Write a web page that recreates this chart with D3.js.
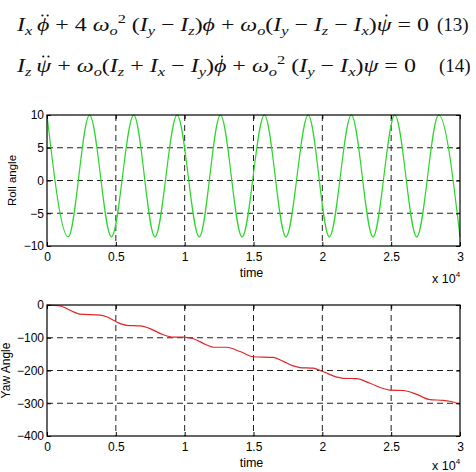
<!DOCTYPE html>
<html>
<head>
<meta charset="utf-8">
<script src="https://cdn.jsdelivr.net/npm/d3@7"></script>
<style>
  body { margin: 0; background: #fff; }
  svg { display: block; }
  .tick text { font-family: "Liberation Sans", Arial, sans-serif; font-size: 12px; fill: #000; }
</style>
</head>
<body>
<script>
// Chart data
const xTicks = [0, 5000, 10000, 15000, 20000, 25000, 30000];
const xTickLabels = ['0', '0.5', '1', '1.5', '2', '2.5', '3'];
const rollTicks = [-10, -5, 0, 5, 10];
const yawTicks = [-400, -300, -200, -100, 0];

// roll angle: peaks and troughs of the oscillation
const rollTime = [0, 1540, 3090, 4680, 6300, 7840, 9450, 11060, 12600, 14170,
  15790, 17355, 18975, 20510, 22110, 23680, 25270, 26855, 28450, 30000];
const rollValue = [10, -8.6, 10, -8.6, 10, -8.6, 10, -8.6, 10, -8.6,
  10, -8.6, 10, -8.6, 10, -8.6, 10, -8.6, 10, -8.6];

// yaw angle: stair-like descent
const yawTime = [0, 944, 1913, 2397, 3850, 4334, 5060, 5789, 6755, 7482, 8450, 9175,
  9900, 10627, 11600, 12080, 13053, 14020, 15000, 16440, 17165, 17890, 18378,
  19346, 20073, 21042, 21525, 22494, 23462, 24430, 24915, 25884, 26852, 27821,
  28789, 29274, 30000];
const yawValue = [0, -3, -21, -28, -31, -36, -52, -62, -64, -72, -91, -98,
  -98, -103, -122, -129, -129, -142, -158, -160, -172, -186, -191,
  -193, -204, -220, -224, -225, -239, -255, -260, -261, -273, -289,
  -291, -294, -303];

const width = 476;
const height = 472;
const left = 47;
const plotW = 413;
const plotH = 131;

const svg = d3.select('body')
  .append('svg')
  .attr('width', width)
  .attr('height', height);

// ---- equations ----
// [text, kind, dots over the glyph]
const mathFont = '"Liberation Serif", "DejaVu Serif", serif';
const eq1 = [
  ['I', 'i'], ['x', 'sub'], ['\u2009', 'n'], ['\u03D5', 'g', 2], ['  +  4 ', 'n'], ['ω', 'i'], ['o', 'sub'], ['2', 'sup'],
  [' (', 'n'], ['I', 'i'], ['y', 'sub'], [' − ', 'n'], ['I', 'i'], ['z', 'sub'], [')', 'n'], ['\u03D5', 'g'],
  [' +  ', 'n'], ['ω', 'i'], ['o', 'sub'], ['(', 'n'], ['I', 'i'], ['y', 'sub'], [' − ', 'n'], ['I', 'i'], ['z', 'sub'],
  [' − ', 'n'], ['I', 'i'], ['x', 'sub'], [')', 'n'], ['\u03C8', 'g', 1], [' = 0', 'n']
];
const eq2 = [
  ['I', 'i'], ['z', 'sub'], ['\u2009', 'n'], ['\u03C8', 'g', 2], ['  +  ', 'n'], ['ω', 'i'], ['o', 'sub'],
  ['(', 'n'], ['I', 'i'], ['z', 'sub'], [' + ', 'n'], ['I', 'i'], ['x', 'sub'], [' − ', 'n'], ['I', 'i'], ['y', 'sub'], [')', 'n'],
  ['\u03D5', 'g', 1], [' +  ', 'n'], ['ω', 'i'], ['o', 'sub'], ['2', 'sup'], [' (', 'n'], ['I', 'i'], ['y', 'sub'],
  [' − ', 'n'], ['I', 'i'], ['x', 'sub'], [')', 'n'], ['\u03C8', 'g'], [' = 0', 'n']
];

function drawEquation(parts, x0, baseline, x1, num, numX) {
  const g = svg.append('g');
  const t = g.append('text')
    .attr('x', 0).attr('y', 0)
    .style('font-family', mathFont)
    .style('font-size', '19px')
    .attr('fill', '#111');
  let shift = 0;
  const dotted = [];
  parts.forEach(([s, kind, dots]) => {
    const sp = t.append('tspan').text(s);
    let target = 0;
    if (kind === 'sub') { target = 4; sp.style('font-size', '13px').style('font-style', 'italic'); }
    else if (kind === 'sup') { target = -8; sp.style('font-size', '13px'); }
    else if (kind === 'i' || kind === 'g') sp.style('font-style', 'italic');
    sp.attr('dy', target - shift);
    shift = target;
    if (dots) dotted.push([sp, dots]);
  });
  const w = t.node().getComputedTextLength();
  const sx = (x1 - x0) / w;
  g.attr('transform', `translate(${x0},${baseline}) scale(${sx},1)`);
  // dots of the time derivatives
  dotted.forEach(([sp, dots]) => {
    const b = sp.node().getBBox();
    const cx = b.x + b.width / 2 + 1.5;
    const cy = -15.5;
    const offs = dots === 2 ? [-2.6, 2.6] : [0];
    offs.forEach(o => {
      g.append('ellipse')
        .attr('cx', cx + o / sx).attr('cy', cy)
        .attr('rx', 1.1 / sx).attr('ry', 1.1)
        .attr('fill', '#111');
    });
  });
  svg.append('text')
    .attr('x', numX).attr('y', baseline)
    .style('font-family', mathFont)
    .style('font-size', '19px')
    .attr('fill', '#111')
    .text(num);
}
drawEquation(eq1, 17, 31, 429, '(13)', 437);
drawEquation(eq2, 17, 72, 416, '(14)', 439);

// ---- plot helper ----
function drawPlot(top, yDomain, yTicks, time, values, color, yLabel, labelX, labelSize, expOffset) {
  const x = d3.scaleLinear().domain([0, 30000]).range([left, left + plotW]);
  const y = d3.scaleLinear().domain(yDomain).range([top + plotH, top]);

  const g = svg.append('g');

  // dashed grid
  g.selectAll('.vgrid')
    .data(xTicks.slice(1, -1))
    .enter().append('line')
    .attr('x1', d => x(d)).attr('x2', d => x(d))
    .attr('y1', top).attr('y2', top + plotH)
    .attr('stroke', '#222').attr('stroke-width', 1)
    .attr('stroke-dasharray', '6,4');
  g.selectAll('.hgrid')
    .data(yTicks.slice(1, -1))
    .enter().append('line')
    .attr('x1', left).attr('x2', left + plotW)
    .attr('y1', d => y(d)).attr('y2', d => y(d))
    .attr('stroke', '#222').attr('stroke-width', 1)
    .attr('stroke-dasharray', '6,4');

  // data line
  const pts = time.map((t, i) => [t, values[i]]);
  const line = d3.line()
    .x(d => x(d[0]))
    .y(d => y(d[1]))
    .curve(d3.curveMonotoneX);
  g.append('path')
    .datum(pts)
    .attr('d', line)
    .attr('fill', 'none')
    .attr('stroke', color)
    .attr('stroke-width', 1.2);

  // axes with inner ticks
  const xAxis = d3.axisBottom(x)
    .tickValues(xTicks)
    .tickFormat((d, i) => xTickLabels[i])
    .tickSize(-4).tickPadding(6);
  g.append('g')
    .attr('transform', `translate(0,${top + plotH})`)
    .call(xAxis)
    .call(a => a.select('.domain').remove());
  g.append('g')
    .attr('transform', `translate(0,${top})`)
    .call(d3.axisTop(x).tickValues(xTicks).tickFormat('').tickSize(-4))
    .call(a => a.select('.domain').remove());
  g.append('g')
    .attr('transform', `translate(${left},0)`)
    .call(d3.axisLeft(y).tickValues(yTicks).tickSize(-4).tickPadding(3))
    .call(a => a.select('.domain').remove());
  g.append('g')
    .attr('transform', `translate(${left + plotW},0)`)
    .call(d3.axisRight(y).tickValues(yTicks).tickFormat('').tickSize(-4))
    .call(a => a.select('.domain').remove());

  // frame
  g.append('rect')
    .attr('x', left).attr('y', top)
    .attr('width', plotW).attr('height', plotH)
    .attr('fill', 'none')
    .attr('stroke', '#000')
    .attr('stroke-width', 1.2);

  // labels
  g.append('text')
    .attr('x', left + plotW / 2 - 2)
    .attr('y', top + plotH + 31)
    .attr('text-anchor', 'middle')
    .style('font-family', '"Liberation Sans", Arial, sans-serif')
    .style('font-size', '12.5px')
    .text('time');

  g.append('text')
    .attr('transform', `translate(${labelX},${top + plotH / 2}) rotate(-90)`)
    .attr('text-anchor', 'middle')
    .style('font-family', '"Liberation Sans", Arial, sans-serif')
    .style('font-size', labelSize)
    .text(yLabel);

  const ex = g.append('text')
    .attr('x', 432)
    .attr('y', top + plotH + expOffset)
    .style('font-family', '"Liberation Sans", Arial, sans-serif')
    .style('font-size', '12.5px');
  ex.append('tspan').text('x 10');
  ex.append('tspan').attr('dy', -6).style('font-size', '8px').text('4');
}

drawPlot(115, [-10, 10], rollTicks, rollTime, rollValue, '#2bd62b', 'Roll angle', 16, '11.5px', 37);
drawPlot(305, [-400, 0], yawTicks, yawTime, yawValue, '#e02626', 'Yaw Angle', 10, '12px', 34);
</script>
</body>
</html>
